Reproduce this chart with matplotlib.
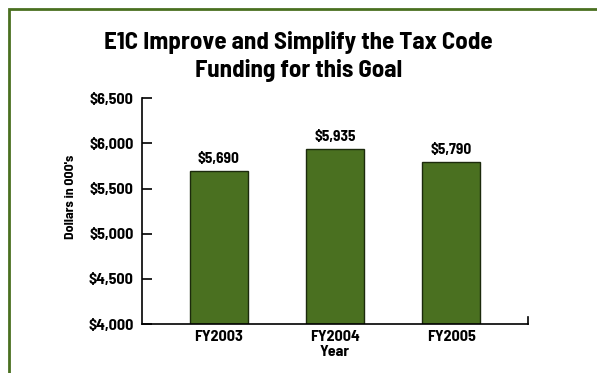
import matplotlib
matplotlib.use("Agg")
import matplotlib.pyplot as plt
from matplotlib.patches import Rectangle
from matplotlib.ticker import FuncFormatter

years = ["FY2003", "FY2004", "FY2005"]
funding = [5690, 5935, 5790]
y_ticks = [4000, 4500, 5000, 5500, 6000, 6500]

GREEN = "#4a7020"
FONT = ["Barlow Semi Condensed", "Liberation Sans Narrow", "DejaVu Sans"]
plt.rcParams["font.family"] = FONT
plt.rcParams["font.weight"] = "bold"

fig = plt.figure(figsize=(5.97, 3.73), dpi=100)
ax = fig.add_axes([0.238, 0.131, 0.646, 0.606])

# green frame along top and left edges
fig.patches.append(Rectangle((9 / 597, -0.1), 1.2, 1.1 - 9 / 373,
                             transform=fig.transFigure, fill=False,
                             edgecolor=GREEN, linewidth=2))

x = range(len(years))
ax.bar(x, funding, width=0.5, color=GREEN, edgecolor="#1c2a0c", linewidth=1)
for xi, v in zip(x, funding):
    ax.text(xi, v + 55, f"${v:,}", ha="center", va="bottom",
            fontsize=11, fontweight="bold")

ax.set_xlim(-0.66, 2.66)
ax.set_ylim(4000, 6500)
ax.set_yticks(y_ticks)
ax.yaxis.set_major_formatter(FuncFormatter(lambda v, p: f"${int(v):,}"))
ax.set_xticks(list(x))
ax.set_xticklabels(years)
ax.tick_params(axis="y", direction="in", length=7, width=1.2,
               labelsize=11.5, pad=6)
ax.tick_params(axis="x", length=0, labelsize=11.5, pad=4)
for lab in ax.get_xticklabels() + ax.get_yticklabels():
    lab.set_fontweight("bold")

ax.spines["top"].set_visible(False)
ax.spines["right"].set_visible(False)
ax.spines["left"].set_linewidth(1.2)
ax.spines["bottom"].set_linewidth(1.2)
# small end tick at right of the x axis
ax.plot([1, 1], [0, 0.03], transform=ax.transAxes, color="black",
        linewidth=1.2, clip_on=False)

ax.set_xlabel("Year", fontsize=11.5, fontweight="bold", labelpad=1)
ax.set_ylabel("Dollars in 000's", fontsize=10, fontweight="bold")
ax.yaxis.set_label_coords(-0.171, 0.562)

fig.text(0.5, 0.887, "E1C Improve and Simplify the Tax Code",
         ha="center", va="center", fontsize=18, fontweight="bold")
fig.text(0.5, 0.812, "Funding for this Goal",
         ha="center", va="center", fontsize=18, fontweight="bold")

fig.savefig("out.png", dpi=100)
